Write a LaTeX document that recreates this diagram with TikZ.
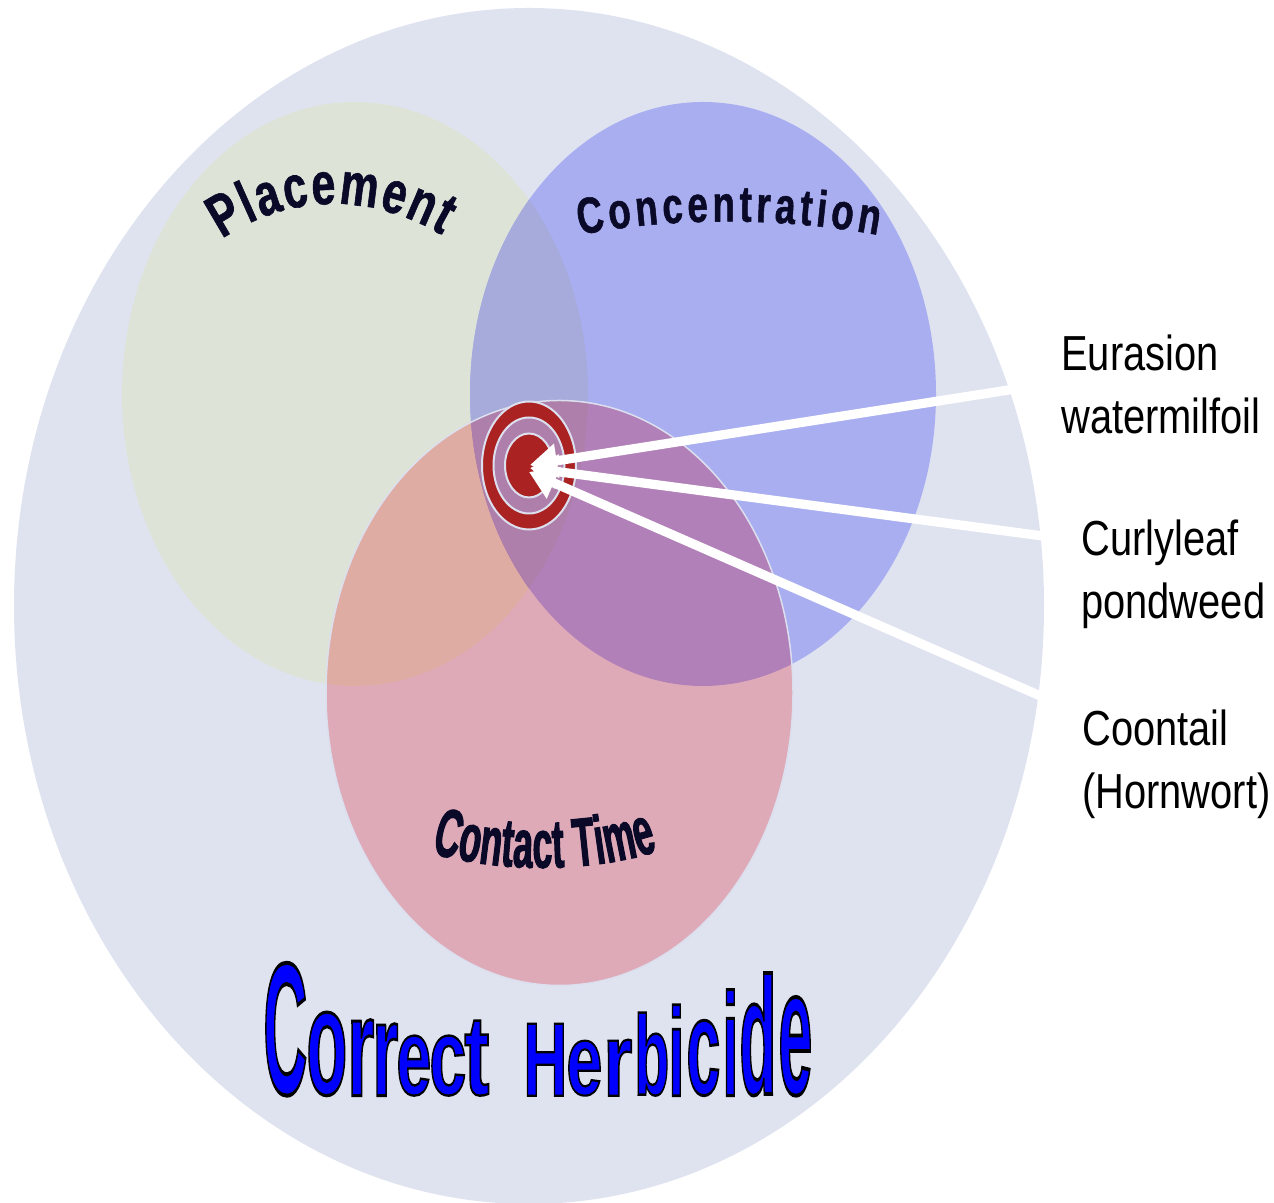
\documentclass[tikz,border=0pt]{standalone}
\usepackage{fontspec}
\usepackage{xcolor}
\usepackage{tikz}
\usetikzlibrary{arrows.meta,decorations.text}
\setmainfont{Liberation Sans}
\newfontfamily\labelfont[FakeStretch=0.81]{Liberation Sans}
\newfontfamily\arcfont[FakeStretch=0.72,FakeBold=1]{Liberation Sans Bold}
\newfontfamily\timefont[FakeStretch=0.52,FakeBold=1.5]{Liberation Sans Bold}
\definecolor{outerfill}{HTML}{DFE3F0}
\definecolor{placefill}{HTML}{DDE3D7}
\definecolor{concfill}{HTML}{A8AEF0}
\definecolor{timefill}{HTML}{DEAAB8}
\definecolor{placeconc}{HTML}{A6ABDB}
\definecolor{placetime}{HTML}{DFACA3}
\definecolor{conctime}{HTML}{B280B8}
\definecolor{allthree}{HTML}{AE7FAA}
\definecolor{ringred}{HTML}{AA2222}
\definecolor{ringline}{HTML}{DCDFEE}
\definecolor{arcink}{HTML}{0A0A28}
\newlength{\pxu}
\setlength{\pxu}{0.02cm}
\newcommand{\outlined}[1]{\special{pdf:code 2 Tr 1.3 w 0 0 0 RG}#1\special{pdf:code 0 Tr}}
\newcommand{\placementpath}{(355,809) ellipse [x radius=233,y radius=292]}
\newcommand{\concpath}{(703,809) ellipse [x radius=233,y radius=292]}
\newcommand{\timepath}{(559.5,510) ellipse [x radius=233.5,y radius=292.5]}

\begin{document}
\begin{tikzpicture}[
    x=0.02cm,
    y=0.02cm,
    sidelabel/.style={
        font=\labelfont\fontsize{28}{35.7}\selectfont,
        align=left,
        inner sep=0pt,
        anchor=north west
    },
    titleletter/.style={
        inner sep=0pt,
        anchor=south west,
        font=\bfseries\fontsize{60}{60}\selectfont,
        text=blue
    },
    whitearrow/.style={
        draw=white,
        line width=1.85mm,
        -{Triangle[length=5.4mm,width=6.6mm,fill=white]}
    },
    ringshape/.style={
        draw=ringline,
        line width=0.4mm,
        fill=ringred,
        even odd rule
    }
]
\useasboundingbox (0,0) rectangle (1274,1203);

% Big circles
\fill[outerfill] (529,597) ellipse [x radius=515,y radius=598];
\fill[placefill] \placementpath;
\fill[concfill] \concpath;
\fill[timefill] \timepath;

% Overlaps
\begin{scope}
\clip \placementpath;
\fill[placeconc] \concpath;
\fill[placetime] \timepath;
\clip \concpath;
\fill[allthree] \timepath;
\end{scope}
\begin{scope}
\clip \concpath;
\clip \timepath;
\fill[conctime] (703,809) ellipse [x radius=233,y radius=292];
\clip \placementpath;
\fill[allthree] (559,510) ellipse [x radius=233,y radius=292];
\end{scope}
\draw[ringline,line width=0.3mm] \timepath;

% Target
\draw[ringshape] (529,737.5) ellipse [x radius=47,y radius=64]
    (529,737.5) ellipse [x radius=35.5,y radius=48];
\draw[ringshape] (529,737.5) ellipse [x radius=24,y radius=32];

% Curved names
\path[decorate,decoration={text along path,text align={fit to path},
    text={|\arcfont\fontsize{34}{34}\selectfont\color{arcink}|Placement}}]
    (222,964) .. controls (290,1010) and (370,1010) .. (442,968);
\path[decorate,decoration={text along path,text align={fit to path},
    text={|\arcfont\fontsize{29}{29}\selectfont\color{arcink}|Concentration}}]
    (580,968) .. controls (670,986) and (780,986) .. (878,968);
\path[decorate,decoration={text along path,text align={fit to path},
    text={|\timefont\fontsize{39}{39}\selectfont\color{arcink}|Contact Time}}]
    (431,350) .. controls (500,330) and (590,330) .. (658,352);

% Title
\foreach \ch/\lx/\lw/\ty [count=\i, evaluate=\ty as \lh using 1094-\ty, evaluate=\lx as \la using \lx-2, evaluate=\lw as \lb using \lw+4] in {
    C/265/40/963, o/308/37/1012, r/349/23/1018, r/374/22/1022, e/398/31/1035,
    c/431/33/1035, t/466/21/1020, H/525/40/1022, e/568/32/1040, r/605/25/1038,
    b/636/31/1012, i/670/12/1003, c/688/30/1020, i/724/12/988, d/741/33/973, e/780/30/997}
{
    \node (title\i) [titleletter] at (\la,107)
    {\resizebox{\lb\pxu}{\lh\pxu}{\outlined{\ch}}};
}

% Side labels
\node (milfoil) [sidelabel] at (1061,868) {Eurasion\\watermilfoil};
\node (pondweed) [sidelabel] at (1081,683) {Curlyleaf\\pondweed};
\node (coontail) [sidelabel] at (1082,493) {Coontail\\(Hornwort)};

% Arrows
\coordinate (milfoiltail) at (1015,814);
\coordinate (pondweedtail) at (1043,667);
\coordinate (coontailtail) at (1045,505);
\coordinate (milfoiltip) at (530,738);
\coordinate (pondweedtip) at (530,735);
\coordinate (coontailtip) at (529,731);
\draw[whitearrow] (milfoiltail) -- (milfoiltip);
\draw[whitearrow] (pondweedtail) -- (pondweedtip);
\draw[whitearrow] (coontailtail) -- (coontailtip);

\end{tikzpicture}
\end{document}
